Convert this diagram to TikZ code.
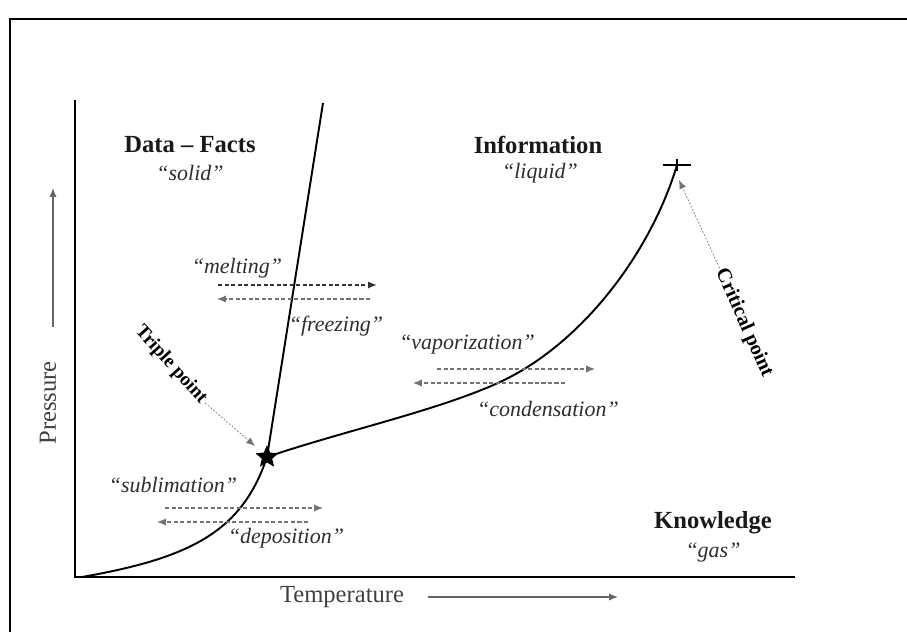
\documentclass[tikz,border=0pt]{standalone}
\usepackage{fontspec}
\setmainfont{Liberation Serif}
\usetikzlibrary{arrows.meta,shapes.geometric}

\begin{document}
\begin{tikzpicture}[x=0.02cm,y=-0.02cm,>={Latex[length=5pt,width=4pt]}]
    \tikzset{
        lab/.style={font={\fontsize{14}{16}\selectfont\bfseries}, text=black!90},
        ph/.style={font={\fontsize{12.5}{15}\selectfont\itshape}, text=black!82},
        ax/.style={font={\fontsize{14}{16}\selectfont}, text=black!75},
        tr/.style={->, black!55, line width=0.6pt, dash pattern=on 2.5pt off 1.2pt},
        ptr/.style={->, black!55, line width=0.4pt, dash pattern=on 1pt off 1pt},
        cv/.style={line width=1.1pt},
    }
        \useasboundingbox (0,0) rectangle (907,632);
        \draw[line width=1.2pt] (10,632) -- (10,19) -- (907,19);

        \coordinate (ytop) at (75,100);
        \coordinate (o) at (75,577);
        \coordinate (xend) at (795,577);
        \draw[line width=1.7pt] (ytop) -- (o) -- (xend);

        \node[ax, rotate=90] (pres) at (48,403) {Pressure};
        \coordinate (p0) at (53,327);
        \coordinate (p1) at (53,188);
        \draw[->, black!60, line width=0.6pt] (p0) -- (p1);

        \node[ax] (temp) at (342,597) {Temperature};
        \coordinate (t0) at (428,597);
        \coordinate (t1) at (618,597);
        \draw[->, black!60, line width=0.6pt] (t0) -- (t1);

        \coordinate (t) at (267,457);
        \coordinate (mtop) at (323,103);
        \coordinate (cp) at (677,165);

        \draw[cv] (82,577) .. controls (190,558) and (242,532) .. (t);
        \draw[cv] (t) -- (mtop);
        \draw[cv] (t) .. controls (340,432) and (440,410) .. (500,382) .. controls (580,345) and (650,255) .. (cp);

        \node[star, star points=5, star point ratio=2.2, fill, inner sep=0pt, minimum size=0.48cm] (tp) at (t) {};
        \draw[line width=1pt] ([xshift=-0.28cm]cp) -- ([xshift=0.28cm]cp);
        \draw[line width=1pt] ([yshift=-0.12cm]cp) -- ([yshift=0.12cm]cp);

        \node[lab] (data) at (190,145) {Data -- Facts};
        \node[ph] (solid) at (190,173) {“solid”};
        \node[lab] (info) at (538,145) {Information};
        \node[ph] (liquid) at (540,173) {“liquid”};
        \node[lab] (know) at (713,523) {Knowledge};
        \node[ph] (gas) at (713,553) {“gas”};

        \node[ph] (melt) at (237,268) {“melting”};
        \coordinate (m0) at (218,285);
        \coordinate (m1) at (377,285);
        \draw[tr, black!80, line width=0.9pt] (m0) -- (m1);
        \coordinate (f0) at (370,299);
        \coordinate (f1) at (217,299);
        \draw[tr] (f0) -- (f1);
        \node[ph] (freeze) at (336,326) {“freezing”};

        \node[ph] (vap) at (467,345) {“vaporization”};
        \coordinate (v0) at (437,369);
        \coordinate (v1) at (595,369);
        \draw[tr] (v0) -- (v1);
        \coordinate (c0) at (565,383);
        \coordinate (c1) at (413,383);
        \draw[tr] (c0) -- (c1);
        \node[ph] (cond) at (548,409) {“condensation”};

        \node[ph] (subl) at (173,485) {“sublimation”};
        \coordinate (s0) at (165,508);
        \coordinate (s1) at (323,508);
        \draw[tr] (s0) -- (s1);
        \coordinate (d0) at (308,522);
        \coordinate (d1) at (157,522);
        \draw[tr] (d0) -- (d1);
        \node[ph] (depo) at (286,538) {“deposition”};

        \node[font={\fontsize{11}{13}\selectfont\bfseries}, rotate=-48, inner sep=1pt] (tplab) at (171,365) {Triple point};
        \draw[ptr] (tplab.east) -- (255,446);
        \node[font={\fontsize{11.5}{13}\selectfont\bfseries}, rotate=-66, inner sep=1pt] (cplab) at (744,323) {Critical point};
        \draw[ptr] (cplab.west) -- (679,180);
    \end{tikzpicture}
\end{document}
